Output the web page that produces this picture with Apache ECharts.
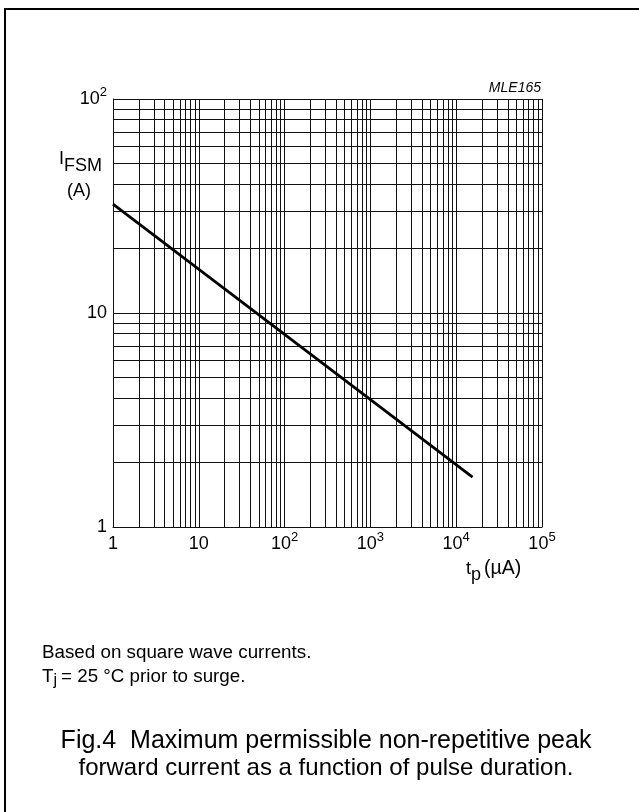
<!DOCTYPE html>
<html><head><meta charset="utf-8">
<script src="https://cdn.jsdelivr.net/npm/echarts@6/dist/echarts.min.js"></script>
<style>html,body{margin:0;padding:0;background:#fff}#c{width:639px;height:812px}</style>
</head><body><div id="c"></div>
<script>
// data
const pulseDuration = [1, 15500];      // t_p
const peakCurrent = [32.3, 1.71];      // I_FSM (A)
// tick labels (base + exponent)
const xTickBase = ['1', '10', '10', '10', '10', '10'];
const xTickExp = ['', '', '2', '3', '4', '5'];
const yTickBase = ['1', '10', '10'];
const yTickExp = ['', '', '2'];
// grid helpers
const xDecades = [1, 10, 100, 1000, 10000];
const yDecades = [1, 10];
const minorSteps = [2, 3, 4, 5, 6, 7, 8, 9];

const FONT = "'Liberation Sans', Arial, sans-serif";
const GRID = '#111';

const xMinor = [];
xDecades.forEach(d => minorSteps.forEach(m => xMinor.push({ xAxis: d * m })));
const yMinor = [];
yDecades.forEach(d => minorSteps.forEach(m => yMinor.push({ yAxis: d * m })));

function labelFmt(bases, exps) {
  return function (v) {
    const i = Math.round(Math.log10(v));
    if (i < 0 || i >= bases.length) return '';
    return '{a|' + bases[i] + '}' + (exps[i] ? '{s|' + exps[i] + '}' : '');
  };
}
const richLbl = {
  a: { fontSize: 18, fontFamily: FONT, color: '#000', lineHeight: 28 },
  s: { fontSize: 13, fontFamily: FONT, color: '#000', padding: [0, 0, 13, 0] }
};

const chart = echarts.init(document.getElementById('c'), null, { renderer: 'canvas' });
chart.setOption({
  animation: false,
  backgroundColor: '#fff',
  grid: { left: 113, top: 99, width: 429, height: 428, containLabel: false },
  xAxis: {
    type: 'log', logBase: 10, min: 1, max: 100000, splitNumber: 5,
    axisLine: { show: true, lineStyle: { color: GRID, width: 1 } },
    axisTick: { show: false },
    splitLine: { show: true, lineStyle: { color: GRID, width: 1 } },
    axisLabel: { margin: 3, formatter: labelFmt(xTickBase, xTickExp), rich: richLbl }
  },
  yAxis: {
    type: 'log', logBase: 10, min: 1, max: 100, splitNumber: 2,
    axisLine: { show: true, lineStyle: { color: GRID, width: 1 } },
    axisTick: { show: false },
    splitLine: { show: true, lineStyle: { color: GRID, width: 1 } },
    axisLabel: { margin: 6, formatter: labelFmt(yTickBase, yTickExp), rich: richLbl }
  },
  series: [
    {
      type: 'line', data: [], silent: true,
      markLine: {
        silent: true, symbol: ['none', 'none'], animation: false,
        label: { show: false },
        lineStyle: { color: GRID, width: 1, type: 'solid' },
        emphasis: { disabled: true },
        data: xMinor.concat(yMinor)
      }
    },
    {
      type: 'line',
      data: pulseDuration.map((t, i) => [t, peakCurrent[i]]),
      showSymbol: false, symbol: 'none',
      lineStyle: { color: '#000', width: 2.8 },
      z: 5
    }
  ],
  graphic: [
    { type: 'rect', shape: { x: 5, y: 9, width: 700, height: 900 }, style: { fill: 'none', stroke: '#000', lineWidth: 2 }, silent: true },
    { type: 'text', style: { text: 'MLE165', x: 541, y: 88, align: 'right', verticalAlign: 'middle', font: 'italic 14px ' + FONT, fill: '#000' } },
    { type: 'text', style: { text: 'I', x: 59, y: 159, verticalAlign: 'middle', font: '18px ' + FONT, fill: '#000' } },
    { type: 'text', style: { text: 'FSM', x: 64, y: 166.5, verticalAlign: 'middle', font: '18px ' + FONT, fill: '#000' } },
    { type: 'text', style: { text: '(A)', x: 67, y: 191, verticalAlign: 'middle', font: '18px ' + FONT, fill: '#000' } },
    { type: 'text', style: { text: 't', x: 466, y: 569, verticalAlign: 'middle', font: '18px ' + FONT, fill: '#000' } },
    { type: 'text', style: { text: 'p', x: 471, y: 575, verticalAlign: 'middle', font: '18px ' + FONT, fill: '#000' } },
    { type: 'text', style: { text: '(µA)', x: 484, y: 569, verticalAlign: 'middle', font: '19.5px ' + FONT, fill: '#000' } },
    { type: 'text', style: { text: 'Based on square wave currents.', x: 42, y: 653, verticalAlign: 'middle', font: '18.8px ' + FONT, fill: '#000' } },
    { type: 'text', style: { text: 'T', x: 42, y: 677, verticalAlign: 'middle', font: '18.8px ' + FONT, fill: '#000' } },
    { type: 'text', style: { text: 'j', x: 53.5, y: 681, verticalAlign: 'middle', font: '16px ' + FONT, fill: '#000' } },
    { type: 'text', style: { text: '= 25 °C prior to surge.', x: 61, y: 677, verticalAlign: 'middle', font: '18.8px ' + FONT, fill: '#000' } },
    { type: 'text', style: { text: 'Fig.4  Maximum permissible non-repetitive peak', x: 326, y: 741, align: 'center', verticalAlign: 'middle', font: '25px ' + FONT, fill: '#000' } },
    { type: 'text', style: { text: 'forward current as a function of pulse duration.', x: 326, y: 768, align: 'center', verticalAlign: 'middle', font: '24px ' + FONT, fill: '#000' } }
  ]
});
</script>
</body></html>
